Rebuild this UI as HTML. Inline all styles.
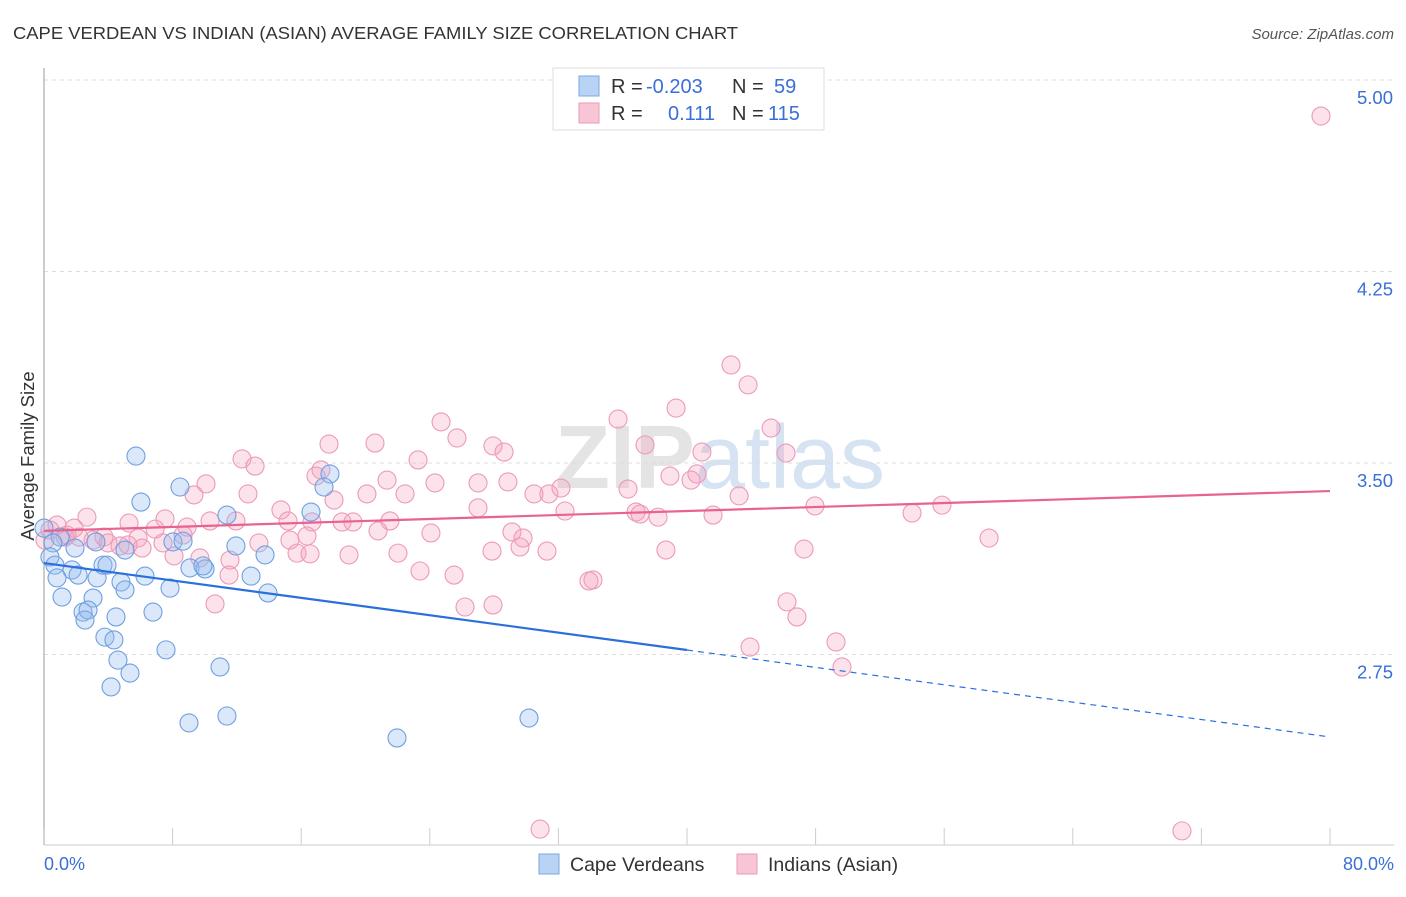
<!DOCTYPE html>
<html><head><meta charset="utf-8"><style>
body{margin:0;background:#fff;font-family:"Liberation Sans",sans-serif}
svg text{font-family:"Liberation Sans",sans-serif}
</style></head><body>
<svg id="chart" width="1406" height="892" viewBox="0 0 1406 892">
<text x="13" y="39" font-size="17.5" fill="#333" textLength="725" lengthAdjust="spacingAndGlyphs">CAPE VERDEAN VS INDIAN (ASIAN) AVERAGE FAMILY SIZE CORRELATION CHART</text>
<text x="1394" y="39" font-size="15" fill="#555" font-style="italic" text-anchor="end">Source: ZipAtlas.com</text>
<text x="720" y="488" font-size="90" fill="#e4e4e4" text-anchor="middle" font-weight="bold">ZIP<tspan fill="#d6e3f3" font-weight="normal">atlas</tspan></text>
<g id="grid"></g>
<line x1="44" y1="68" x2="44" y2="845" stroke="#bbb" stroke-width="1.5"/>
<line x1="44" y1="845" x2="1394" y2="845" stroke="#ccc"/>
<g id="xticks"></g>
<text x="34" y="456" font-size="18.5" fill="#333" text-anchor="middle" transform="rotate(-90 34 456)">Average Family Size</text>
<text x="44" y="870" font-size="18" fill="#3a6fd8">0.0%</text>
<text x="1394" y="870" font-size="18" fill="#3a6fd8" text-anchor="end">80.0%</text>
<g id="pink"></g><g id="blue"></g><g id="trends"></g>
<g>
<rect x="553" y="68" width="271" height="62" fill="#fff" stroke="#ddd"/>
<rect x="579" y="76" width="20" height="20" fill="#b9d3f5" stroke="#7aa7e6"/>
<rect x="579" y="103" width="20" height="20" fill="#f8c5d6" stroke="#eb9ab6"/>
<text y="93" font-size="20" fill="#333"><tspan x="611">R = </tspan><tspan x="646" fill="#3a6fd8">-0.203</tspan><tspan x="732">N = </tspan><tspan x="774" fill="#3a6fd8">59</tspan></text>
<text y="120" font-size="20" fill="#333"><tspan x="611">R = </tspan><tspan x="668" fill="#3a6fd8">0.111</tspan><tspan x="732">N = </tspan><tspan x="768" fill="#3a6fd8">115</tspan></text>
</g>
<g>
<rect x="539" y="854" width="20" height="20" fill="#b9d3f5" stroke="#7aa7e6"/>
<text x="570" y="871" font-size="19.5" fill="#333">Cape Verdeans</text>
<rect x="737" y="854" width="20" height="20" fill="#f8c5d6" stroke="#eb9ab6"/>
<text x="768" y="871" font-size="19.5" fill="#333">Indians (Asian)</text>
</g>
</svg>
<script>
const yTicks=[5.0,4.25,3.5,2.75];
const yTickLabels=["5.00","4.25","3.50","2.75"];
const xTicks=[0,10,20,30,40,50,60,70,80];
const blueX=[5.72,6.03,8.46,11.38,16.61,17.79,17.42,11.94,13.75,8.02,8.65,5.04,3.23,1.00,0.56,0.37,0.68,1.74,2.12,0.81,3.30,3.67,3.92,4.79,6.28,5.04,1.12,3.05,6.78,2.43,2.74,2.55,4.48,9.08,10.02,12.88,13.93,7.84,3.79,4.35,7.59,4.60,10.95,5.35,4.17,11.38,9.02,30.17,21.96,0,1.93,9.89];
const blueY=[3.527,3.347,3.406,3.296,3.308,3.457,3.406,3.175,3.140,3.191,3.194,3.159,3.191,3.210,3.187,3.132,3.100,3.081,3.061,3.050,3.050,3.100,3.100,3.034,3.057,3.003,2.975,2.971,2.916,2.916,2.924,2.885,2.897,3.089,3.085,3.057,2.991,3.010,2.818,2.807,2.768,2.728,2.701,2.677,2.623,2.509,2.482,2.501,2.423,3.245,3.167,3.097];
const pinkX=[79.44,42.74,43.80,39.32,35.71,24.70,25.69,17.73,20.59,27.93,28.62,37.39,45.23,46.16,40.93,12.32,13.13,23.27,40.62,38.94,40.25,17.23,16.92,10.08,21.34,24.32,28.86,27.00,32.16,31.41,22.46,36.33,30.48,20.09,12.69,9.33,18.04,43.24,47.96,55.86,14.74,27.00,32.41,36.83,37.08,38.20,41.62,54.00,2.67,7.53,10.33,11.94,15.18,16.67,18.54,19.22,21.52,5.29,8.90,6.91,1.87,1.43,20.78,24.07,29.11,16.36,8.65,3.73,5.85,3.05,7.40,5.23,13.37,15.30,29.80,58.79,29.61,27.87,31.29,38.69,47.28,22.02,15.74,16.55,18.97,6.10,4.73,9.70,8.09,11.57,23.39,25.51,34.15,33.90,11.51,46.22,27.93,26.19,46.84,10.64,49.27,43.92,49.64,30.86,70.79,0.81,0.37,0.06,1.31,2.18,3.98];
const pinkY=[4.859,3.884,3.806,3.715,3.672,3.661,3.598,3.574,3.578,3.567,3.543,3.571,3.637,3.539,3.543,3.516,3.488,3.512,3.457,3.449,3.433,3.473,3.449,3.418,3.433,3.422,3.426,3.422,3.402,3.379,3.379,3.398,3.379,3.379,3.379,3.375,3.355,3.371,3.332,3.335,3.316,3.324,3.312,3.308,3.300,3.288,3.296,3.304,3.288,3.281,3.273,3.273,3.273,3.269,3.269,3.269,3.273,3.265,3.249,3.241,3.245,3.218,3.234,3.226,3.230,3.214,3.218,3.210,3.206,3.198,3.187,3.179,3.187,3.198,3.206,3.206,3.171,3.155,3.155,3.159,3.163,3.147,3.147,3.144,3.140,3.167,3.175,3.128,3.136,3.120,3.077,3.061,3.042,3.038,3.061,2.956,2.944,2.936,2.897,2.948,2.799,2.779,2.701,2.066,2.059,3.257,3.238,3.198,3.210,3.210,3.187];
const blueTrend=[3.108,2.427];
const pinkTrend=[3.234,3.390];
const NS="http://www.w3.org/2000/svg";
const xs=p=>44+p*16.075;
const ys=v=>463+(3.5-v)*255.3;
function mk(tag,attrs,parent){const e=document.createElementNS(NS,tag);for(const k in attrs)e.setAttribute(k,attrs[k]);document.getElementById(parent).appendChild(e);return e;}
yTicks.forEach((t,i)=>{
 const l=mk('line',{x1:44,x2:1394,y1:ys(t),y2:ys(t),stroke:'#ddd','stroke-dasharray':'4 4'},'grid');
 
 
 const tx=mk('text',{x:1393,y:ys(t)+24,'font-size':18.5,fill:'#3a6fd8','text-anchor':'end'},'grid');
 tx.textContent=yTickLabels[i];
 
 
});
for(let k=0;k<=10;k++){
 const p=k*8;
 const l=mk('line',{x1:xs(p),x2:xs(p),y1:828,y2:845,stroke:'#ccc'},'xticks');
 
 
}
pinkX.forEach((p,i)=>{
 const c=mk('circle',{cx:xs(p),cy:ys(pinkY[i]),r:9,fill:'rgba(244,160,190,0.3)',stroke:'#ec9ab8','stroke-width':1.1},'pink');
 
 
});
blueX.forEach((p,i)=>{
 const c=mk('circle',{cx:xs(p),cy:ys(blueY[i]),r:9,fill:'rgba(150,188,238,0.35)',stroke:'#6f9fe2','stroke-width':1.1},'blue');
 
 
});
const bAt=p=>blueTrend[0]+(blueTrend[1]-blueTrend[0])*p/80;
let t1=mk('line',{x1:xs(0),y1:ys(bAt(0)),x2:xs(40),y2:ys(bAt(40)),stroke:'#2a6fdb','stroke-width':2.2},'trends');


let t2=mk('line',{x1:xs(40),y1:ys(bAt(40)),x2:xs(80),y2:ys(bAt(80)),stroke:'#2a6fdb','stroke-width':1.2,'stroke-dasharray':'6 5'},'trends');


let t3=mk('line',{x1:xs(0),y1:ys(pinkTrend[0]),x2:xs(80),y2:ys(pinkTrend[1]),stroke:'#e8638f','stroke-width':2.2},'trends');


</script>
</body></html>
